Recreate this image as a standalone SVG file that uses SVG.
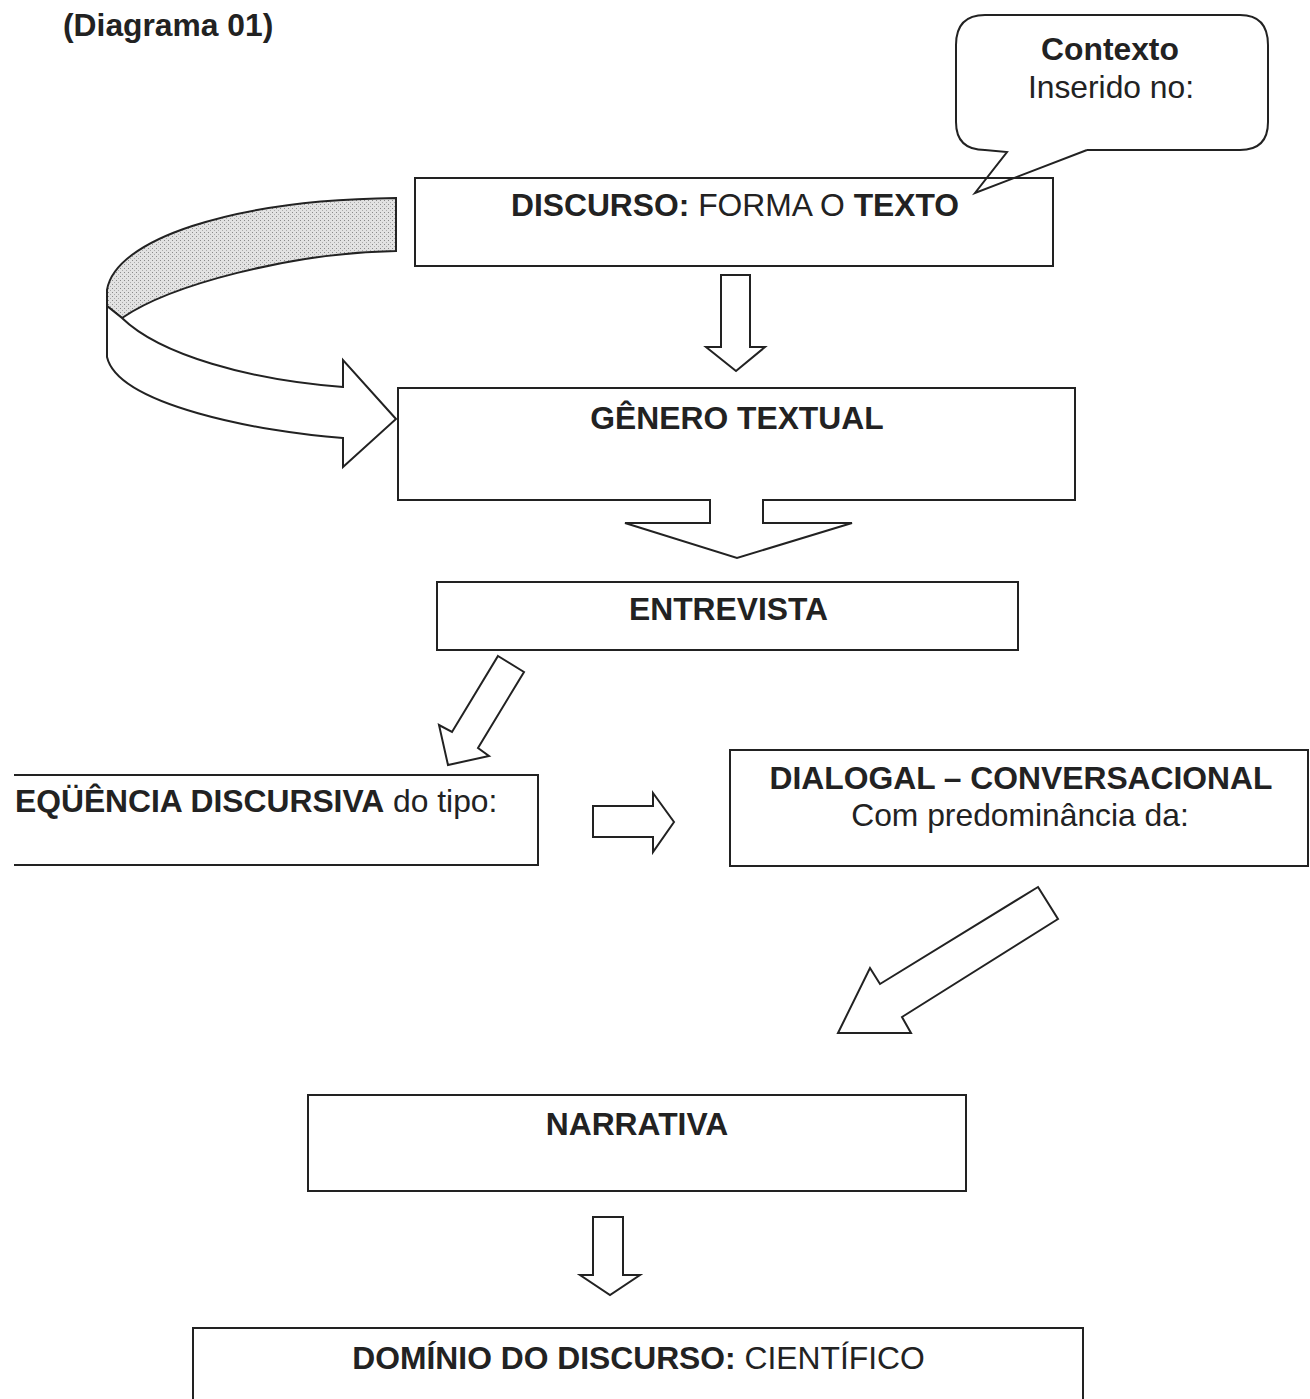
<svg xmlns="http://www.w3.org/2000/svg" width="1310" height="1399" viewBox="0 0 1310 1399">
<defs>
<style>
.box{fill:#fff;stroke:#222;stroke-width:2}
.arr{fill:#fff;stroke:#222;stroke-width:2;stroke-linejoin:miter}
.ln{fill:none;stroke:#222;stroke-width:2}
.t{font-family:"Liberation Sans",Arial,sans-serif;font-size:31.8px;fill:#222}
.b{font-weight:bold}
.c{text-anchor:middle}
</style>
<pattern id="dots" width="4" height="4" patternUnits="userSpaceOnUse">
<rect width="4" height="4" fill="#e2e2e2"/>
<rect x="0" y="0" width="1" height="1" fill="#8a8a8a"/>
<rect x="2" y="2" width="1" height="1" fill="#aaaaaa"/>
</pattern>
</defs>
<rect width="1310" height="1399" fill="#fff"/>

<text class="t b" x="63" y="36">(Diagrama 01)</text>

<g id="discurso">
<rect class="box" x="415" y="178" width="638" height="88"/>
<text class="t c" x="735" y="216"><tspan class="b">DISCURSO:</tspan> FORMA O <tspan class="b">TEXTO</tspan></text>
</g>

<g id="contexto">
<path d="M985,15 L1240,15 Q1268,15 1268,45 L1268,122 Q1268,150 1240,150 L985,150 Q956,150 956,122 L956,45 Q956,15 985,15 Z" fill="#fff"/>
<path class="ln" d="M1087,150 L1240,150 Q1268,150 1268,122 L1268,45 Q1268,15 1240,15 L985,15 Q956,15 956,45 L956,122 Q956,150 985,150 L1007,152 L975,193 L1087,150"/>
<text class="t b c" x="1110" y="60">Contexto</text>
<text class="t c" x="1111" y="98">Inserido no:</text>
</g>

<g id="genero">
<rect class="box" x="398" y="388" width="677" height="112"/>
<text class="t b c" x="737" y="429">GÊNERO TEXTUAL</text>
</g>

<g id="entrevista">
<rect class="box" x="437" y="582" width="581" height="68"/>
<text class="t b c" x="728.5" y="620">ENTREVISTA</text>
</g>

<g id="sequencia">
<path class="box" d="M14,775 L538,775 L538,865 L14,865"/>
<text class="t" x="15" y="812"><tspan class="b">EQÜÊNCIA DISCURSIVA</tspan> do tipo:</text>
</g>

<g id="dialogal">
<rect class="box" x="730" y="750" width="578" height="116"/>
<text class="t b c" x="1021" y="789">DIALOGAL – CONVERSACIONAL</text>
<text class="t c" x="1020" y="826">Com predominância da:</text>
</g>

<g id="narrativa">
<rect class="box" x="308" y="1095" width="658" height="96"/>
<text class="t b c" x="637" y="1135">NARRATIVA</text>
</g>

<g id="dominio">
<path class="box" d="M193,1400 L193,1328 L1083,1328 L1083,1400"/>
<text class="t c" x="638.5" y="1369"><tspan class="b">DOMÍNIO DO DISCURSO:</tspan> CIENTÍFICO</text>
</g>

<g id="connectors">
<path d="M396,198 C230,200 115,240 107,290 L107,306 L122,318 C170,285 290,253 396,251 Z" fill="url(#dots)" stroke="#222" stroke-width="2"/>
<path class="arr" d="M107,306 L107,357 C118,405 260,432 343,438 L343,467 L396,419 L343,360 L343,387 C250,380 160,355 122,318 Z"/>
<path class="arr" d="M721,275 L750,275 L750,347 L765,347 L736,371 L706,347 L721,347 Z"/>
<rect x="711" y="497" width="51" height="8" fill="#fff"/>
<path class="arr" d="M710,500 L710,523 L625,523 L737,558 L852,523 L763,523 L763,500"/>
<path class="arr" d="M498,656 L524,672 L478,748 L489,756 L448,765 L439,725 L452,732 Z"/>
<path class="arr" d="M593,806 L653,806 L653,793 L674,822 L653,852 L653,837 L593,837 Z"/>
<path class="arr" d="M1038,887 L1058,919 L902,1017 L911,1033 L838,1033 L870,968 L880,984 Z"/>
<path class="arr" d="M593,1217 L623,1217 L623,1275 L640,1275 L610,1295 L580,1275 L593,1275 Z"/>
</g>
</svg>
